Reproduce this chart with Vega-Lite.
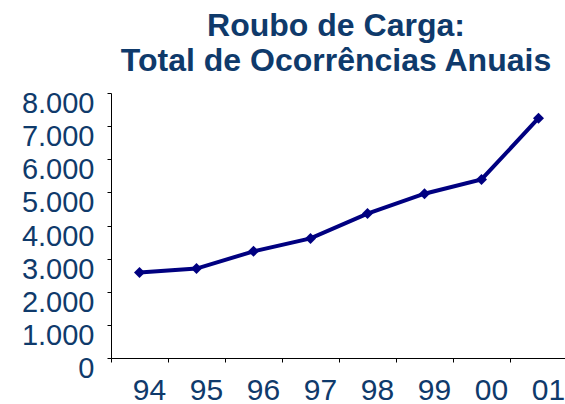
{
  "$schema": "https://vega.github.io/schema/vega-lite/v6.json",
  "width": 456,
  "height": 265,
  "autosize": {"type": "none"},
  "padding": {"left": 111, "top": 93, "right": 0, "bottom": 46},
  "background": "white",
  "title": {
    "text": ["Roubo de Carga:", "Total de Ocorrências Anuais"],
    "font": "Liberation Sans",
    "fontSize": 32,
    "fontWeight": "bold",
    "color": "#0f3a6b",
    "anchor": "middle",
    "lineHeight": 35,
    "offset": 12,
    "dx": -3
  },
  "data": {
    "values": [
      {"ano": "94", "total": 2580},
      {"ano": "95", "total": 2700},
      {"ano": "96", "total": 3220},
      {"ano": "97", "total": 3610},
      {"ano": "98", "total": 4360},
      {"ano": "99", "total": 4960},
      {"ano": "00", "total": 5390},
      {"ano": "01", "total": 7240}
    ]
  },
  "config": {"view": {"stroke": null}},
  "encoding": {
    "x": {
      "field": "ano",
      "type": "ordinal",
      "sort": null,
      "scale": {"paddingInner": 0, "paddingOuter": 0},
      "axis": {
        "title": null,
        "labelAngle": 0,
        "tickBand": "extent",
        "labelOffset": 9.5,
        "labelFont": "Liberation Sans",
        "labelFontSize": 30,
        "labelColor": "#0f3a6b",
        "labelPadding": 13,
        "tickSize": 4,
        "tickColor": "#000000",
        "domainColor": "#000000",
        "grid": false
      }
    },
    "y": {
      "field": "total",
      "type": "quantitative",
      "scale": {"domain": [0, 8000], "nice": false},
      "axis": {
        "title": null,
        "values": [0, 1000, 2000, 3000, 4000, 5000, 6000, 7000, 8000],
        "labelExpr": "replace(format(datum.value, ','), ',', '.')",
        "labelFont": "Liberation Sans",
        "labelFontSize": 29,
        "labelColor": "#0f3a6b",
        "labelPadding": 13,
        "labelOffset": 10.5,
        "labelBaseline": "middle",
        "tickSize": 4,
        "tickColor": "#000000",
        "domainColor": "#000000",
        "grid": false
      }
    }
  },
  "layer": [
    {"mark": {"type": "line", "color": "#000080", "strokeWidth": 4}},
    {"mark": {"type": "point", "shape": "diamond", "filled": true, "color": "#000080", "size": 120, "opacity": 1}}
  ]
}
